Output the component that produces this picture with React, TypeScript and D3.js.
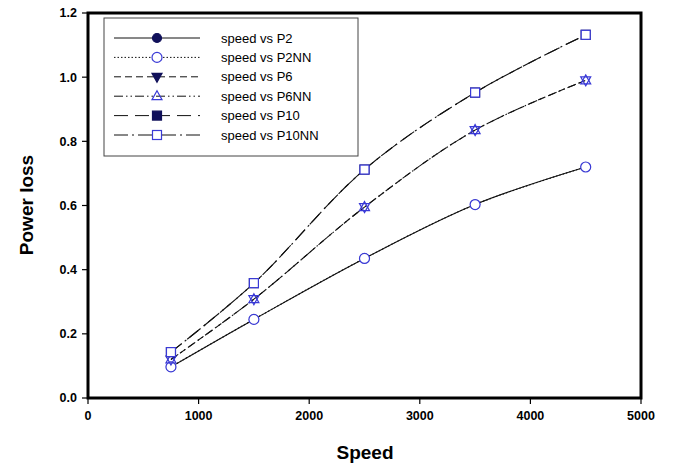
import React from 'react';
import * as d3 from 'd3';

const speeds = [750, 1500, 2500, 3500, 4500];
const p2 = [0.097, 0.245, 0.435, 0.603, 0.72];
const p2nn = [0.097, 0.245, 0.435, 0.603, 0.72];
const p6 = [0.12, 0.308, 0.595, 0.835, 0.99];
const p6nn = [0.12, 0.308, 0.595, 0.835, 0.99];
const p10 = [0.143, 0.358, 0.712, 0.952, 1.132];
const p10nn = [0.143, 0.358, 0.712, 0.952, 1.132];

const xTicks = [0, 1000, 2000, 3000, 4000, 5000];
const yTicks = [0, 0.2, 0.4, 0.6, 0.8, 1.0, 1.2];

const BLUE = '#3a3ad6';
const NAVY = '#10105a';

const series = [
  { name: 'speed vs P2', values: p2, dash: null, marker: 'circle', filled: true },
  { name: 'speed vs P2NN', values: p2nn, dash: '1.5,2', marker: 'circle', filled: false },
  { name: 'speed vs P6', values: p6, dash: '7,4', marker: 'triangleDown', filled: true },
  { name: 'speed vs P6NN', values: p6nn, dash: '9,3,1.5,3,1.5,3', marker: 'triangle', filled: false },
  { name: 'speed vs P10', values: p10, dash: '14,7', marker: 'square', filled: true },
  { name: 'speed vs P10NN', values: p10nn, dash: '14,4,2,4', marker: 'square', filled: false },
];

const Marker = ({ type, x, y, filled, legend }) => {
  const fill = filled ? NAVY : 'white';
  const stroke = filled ? NAVY : BLUE;
  if (type === 'circle') return <circle cx={x} cy={y} r={filled ? 4.5 : 5} fill={fill} stroke={stroke} strokeWidth={1.2} />;
  if (type === 'square') return <rect x={x - 4.5} y={y - 4.5} width={9} height={9} fill={fill} stroke={stroke} strokeWidth={1.2} />;
  if (type === 'triangle') return <path d={`M${x},${y - 5.5}L${x + 5},${y + 3.5}L${x - 5},${y + 3.5}Z`} fill="none" stroke={BLUE} strokeWidth={1.2} />;
  return (
    <path d={`M${x},${y + 5.5}L${x + 5},${y - 3.5}L${x - 5},${y - 3.5}Z`}
      fill={legend ? NAVY : 'none'} stroke={legend ? NAVY : BLUE} strokeWidth={1.2} />
  );
};

export default function App() {
  const left = 88, right = 641, top = 13, bottom = 398;
  const x = d3.scaleLinear().domain([0, 5000]).range([left, right]);
  const y = d3.scaleLinear().domain([0, 1.2]).range([bottom, top]);
  const line = d3.line<number>().x((d, i) => x(speeds[i])).y(d => y(d)).curve(d3.curveCatmullRom);
  const font = 'Arial, "Liberation Sans", sans-serif';

  return (
    <svg width={676} height={466} style={{ position: 'absolute', left: 0, top: 0 }} fontFamily={font}>
      <rect width={676} height={466} fill="white" />
      {series.map(s => (
        <path key={s.name} d={line(s.values)} fill="none" stroke="#111" strokeWidth={1.1} strokeDasharray={s.dash || undefined} />
      ))}
      {series.map(s => s.values.map((v, i) => (
        <Marker key={s.name + i} type={s.marker} x={x(speeds[i])} y={y(v)} filled={s.filled} legend={false} />
      )))}
      <rect x={left} y={top} width={right - left} height={bottom - top} fill="none" stroke="#000" strokeWidth={3} />
      {yTicks.map(t => (
        <g key={t}>
          <line x1={left - 6} x2={left} y1={y(t)} y2={y(t)} stroke="#000" strokeWidth={1.2} />
          <text x={left - 11} y={y(t)} dy="0.35em" textAnchor="end" fontSize={12.5} fontWeight="bold">{t.toFixed(1)}</text>
        </g>
      ))}
      {xTicks.map(t => (
        <g key={t}>
          <line x1={x(t)} x2={x(t)} y1={bottom} y2={bottom + 6} stroke="#000" strokeWidth={1.2} />
          <text x={x(t)} y={bottom + 22} textAnchor="middle" fontSize={12.5} fontWeight="bold">{t}</text>
        </g>
      ))}
      <text x={365} y={459} textAnchor="middle" fontSize={19} fontWeight="bold">Speed</text>
      <text transform="translate(33,205) rotate(-90)" textAnchor="middle" fontSize={19} fontWeight="bold">Power loss</text>
      <rect x={104} y={18} width={254} height={138} fill="white" stroke="#444" strokeWidth={1} />
      {series.map((s, i) => {
        const ly = 38 + i * 19.4;
        return (
          <g key={s.name}>
            <line x1={114} x2={200} y1={ly} y2={ly} stroke="#111" strokeWidth={1} strokeDasharray={s.dash || undefined} />
            <Marker type={s.marker} x={157} y={ly} filled={s.filled} legend={true} />
            <text x={221} y={ly} dy="0.35em" fontSize={13}>{s.name}</text>
          </g>
        );
      })}
    </svg>
  );
}
